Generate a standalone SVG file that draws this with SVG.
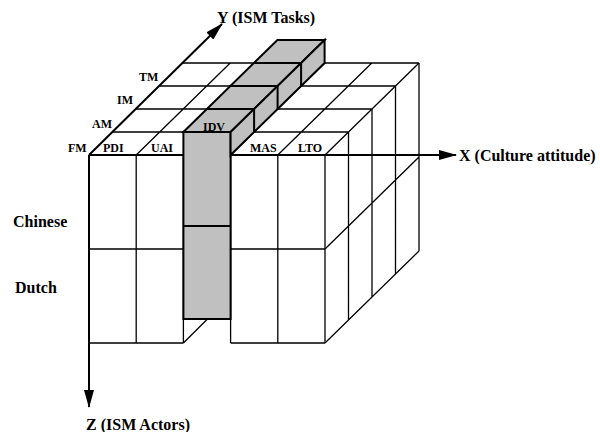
<svg xmlns="http://www.w3.org/2000/svg" width="600" height="432" viewBox="0 0 600 432">
<defs>
<style>
.g{stroke:#000;stroke-width:1.3;fill:none}
.bar{fill:#c0c0c0;stroke:#000;stroke-width:2;stroke-linejoin:miter}
.ax{stroke:#000;stroke-width:2;fill:none}
.t{font-family:"Liberation Serif","Times New Roman",serif;font-weight:bold;fill:#000}
.s{font-size:12px}
.b{font-size:16px}
</style>
<marker id="ah" viewBox="0 0 18 10" refX="17" refY="5" markerWidth="18" markerHeight="10" markerUnits="userSpaceOnUse" orient="auto">
<path d="M0,0 L18,5 L0,10 z" fill="#000"/>
</marker>
</defs>
<rect width="600" height="432" fill="#fff"/>

<g id="cube-top">
<path class="g" d="M112.5,132H348.5 M136,109H372 M159.5,86H395.5 M183,63H419 M136.2,155L230.2,63 M183.4,155L277.4,63 M230.6,155L324.6,63 M277.8,155L371.8,63 M325,155L419,63"/>
</g>

<g id="cube-right">
<path class="g" d="M348.5,132V320 M372,109V297 M395.5,86V274 M419,63V251 M325,249L419,157 M325,343L419,251"/>
</g>

<g id="cube-front">
<path class="g" d="M136.2,155V343 M183.4,155V343 M230.6,155V343 M277.8,155V343 M325,155V343 M89,249H325 M89,343H183.4 M230.6,343H325"/>
</g>

<g id="hole">
<path class="g" d="M183.4,343L207,319.5"/>
</g>

<g id="connectors">
<path class="ax" d="M89,155H456" marker-end="url(#ah)"/>
<path class="ax" d="M89,155V407" marker-end="url(#ah)"/>
<path class="ax" d="M89,155L222,24" marker-end="url(#ah)"/>
</g>

<g id="idv-bar">
<path class="bar" d="M183.4,132H230.6V319H183.4Z"/>
<path class="bar" d="M183.4,132L277.4,40H324.6L230.6,132Z"/>
<path class="bar" d="M230.6,132L324.6,40V63L230.6,155Z"/>
<path class="bar" d="M183.4,226H230.6 M206.9,109H254.1 M230.4,86H277.6 M253.9,63H301.1 M254.1,109V132 M277.6,86V109 M301.1,63V86" fill="none"/>
</g>

<g id="labels">
<text class="t b" x="217" y="23">Y (ISM Tasks)</text>
<text class="t b" x="459" y="161">X (Culture attitude)</text>
<text class="t b" x="86" y="430">Z (ISM Actors)</text>
<text class="t b" x="13" y="227">Chinese</text>
<text class="t b" x="15" y="293">Dutch</text>
<text class="t s" x="68" y="152">FM</text>
<text class="t s" x="92" y="128">AM</text>
<text class="t s" x="117" y="104">IM</text>
<text class="t s" x="139" y="81">TM</text>
<text class="t s" x="103" y="152">PDI</text>
<text class="t s" x="151" y="152">UAI</text>
<text class="t s" x="203" y="131">IDV</text>
<text class="t s" x="250" y="152">MAS</text>
<text class="t s" x="298" y="152">LTO</text>
</g>
</svg>
